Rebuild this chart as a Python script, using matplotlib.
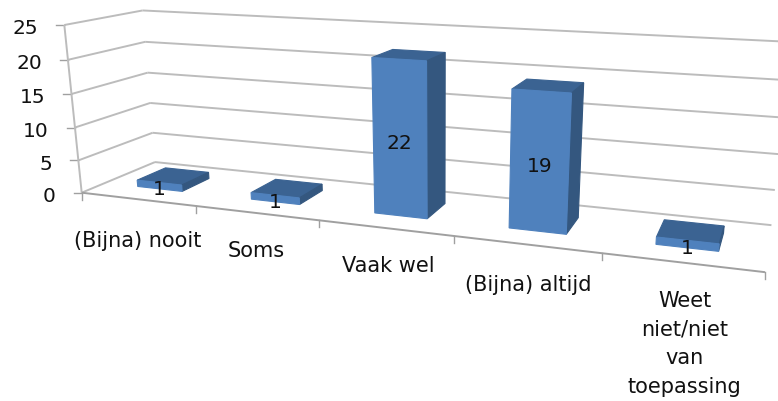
import matplotlib
matplotlib.use("Agg")
import matplotlib.pyplot as plt
from matplotlib.patches import Polygon

categories = ["(Bijna) nooit", "Soms", "Vaak wel", "(Bijna) altijd", "Weet\nniet/niet\nvan\ntoepassing"]
values = [1, 1, 22, 19, 1]
value_ticks = [0, 5, 10, 15, 20, 25]

# layout of the fake 3D box, in pixels
W, H = 778, 401
ORIGIN = (81.7, 192.7)
VP_U = (-2650.0, -125.0)
VP_D = (818.0, -115.0)
VP_V = (440.0, 3650.0)
U_MAX = 5.0
V_MAX = 25.0
S_U = (ORIGIN[0] - 765.0) / (U_MAX * (765.0 - VP_U[0]))
S_D = (ORIGIN[0] - 155.0) / (155.0 - VP_D[0])
S_V = (ORIGIN[1] - 25.0) / (V_MAX * (25.0 - VP_V[1]))

GRID = "#bcbcbc"
AXIS = "#a0a0a0"
FRONT = "#4f81bd"
SIDE = "#34577f"
TOP = "#3b6392"
TEXT = "#111111"


def project(u, d, v):
    # perspective projection from three vanishing points
    w = 1 + S_U * u + S_D * d + S_V * v
    x = ORIGIN[0] + S_U * u * VP_U[0] + S_D * d * VP_D[0] + S_V * v * VP_V[0]
    y = ORIGIN[1] + S_U * u * VP_U[1] + S_D * d * VP_D[1] + S_V * v * VP_V[1]
    return x / w, y / w


def line3d(ax, a, b, color=GRID, lw=1.4, z=1):
    pa, pb = project(*a), project(*b)
    ax.plot([pa[0], pb[0]], [pa[1], pb[1]], color=color, lw=lw, zorder=z, solid_capstyle="butt")


def box(ax, u0, u1, d0, d1, v, z):
    faces = [
        ([(u0, d1, v), (u1, d1, v), (u1, d0, v), (u0, d0, v)], TOP),
        ([(u1, d0, 0), (u1, d1, 0), (u1, d1, v), (u1, d0, v)], SIDE),
        ([(u0, d0, 0), (u1, d0, 0), (u1, d0, v), (u0, d0, v)], FRONT),
    ]
    for pts, col in faces:
        ax.add_patch(Polygon([project(*p) for p in pts], closed=True, facecolor=col,
                             edgecolor=col, lw=0.8, zorder=z))


plt.rcParams["font.family"] = ["DejaVu Sans"]
fig = plt.figure(figsize=(W / 100, H / 100), dpi=100)
ax = fig.add_axes([0, 0, 1, 1])
ax.set_xlim(0, W)
ax.set_ylim(H, 0)
ax.axis("off")

# walls and gridlines
for v in value_ticks:
    line3d(ax, (0, 0, v), (0, 1, v))
    line3d(ax, (0, 1, v), (U_MAX, 1, v))
    px, py = project(0, 0, v)
    ax.plot([px - 8, px], [py, py], color=AXIS, lw=1.0, zorder=1)
    ax.text(px - 26, py + 4, str(v), ha="right", va="center", fontsize=14.5, color=TEXT)

line3d(ax, (0, 0, 0), (0, 0, V_MAX))
line3d(ax, (0, 0, 0), (U_MAX, 0, 0), color=AXIS)
for i in range(len(categories) + 1):
    px, py = project(i, 0, 0)
    ax.plot([px, px], [py, py + 7], color=AXIS, lw=1.0, zorder=1)

# bars
for i, val in enumerate(values):
    box(ax, i + 0.3, i + 0.7, 0.3, 0.7, val, 3)
    px, py = project(i + 0.5, 0.3, val / 2)
    ax.text(px, py + 4, str(val), ha="center", va="center", fontsize=14.5, color=TEXT, zorder=5)

# category labels under the front edge
label_dx = [0, 0, 3, 2, 3]
label_dy = [42, 38, 38, 41, 29]
for i, name in enumerate(categories):
    px, py = project(i + 0.5, 0, 0)
    ax.text(px + label_dx[i], py + label_dy[i], name, ha="center",
            va="top" if "\n" in name else "center",
            fontsize=15, color=TEXT, linespacing=1.53)

fig.savefig("out.png", dpi=100)
